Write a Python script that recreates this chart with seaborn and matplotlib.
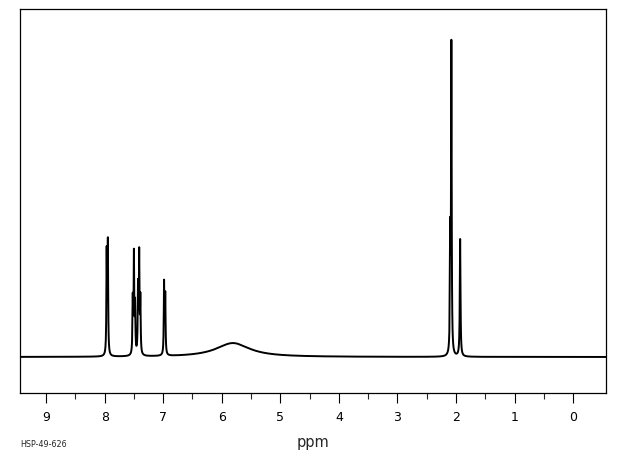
import numpy as np
import pandas as pd
import seaborn as sns
import matplotlib.pyplot as plt

# peak list (ppm, relative height, half width)
shifts = [7.965, 7.945, 7.52, 7.50, 7.48, 7.43, 7.41, 7.39, 6.985, 6.965, 5.81, 2.10, 2.08, 1.93]
heights = [32.0, 35.0, 17.0, 31.0, 15.0, 21.0, 31.0, 17.0, 22.5, 18.5, 4.4, 36.0, 97.0, 37.0]
widths = [0.006, 0.006, 0.006, 0.006, 0.006, 0.006, 0.006, 0.006, 0.006, 0.006, 0.35, 0.006, 0.006, 0.007]

tick_pos = list(range(0, 10))
tick_labels = [str(t) for t in tick_pos]

# build the lineshape from the peak list (lorentzian lines)
ppm = np.linspace(-0.56, 9.44, 20001)
inten = np.zeros_like(ppm)
for c, h, w in zip(shifts, heights, widths):
    inten += h * w**2 / ((ppm - c)**2 + w**2)
df = pd.DataFrame({'ppm': ppm, 'intensity': inten})

sns.set_theme(style='white')
plt.rcParams['font.family'] = ['DejaVu Sans']

fig = plt.figure(figsize=(6.2, 4.55), dpi=100)
ax = fig.add_axes([20.3/620, 1-393.3/455, (606-20.3)/620, (393.3-9.3)/455])

sns.lineplot(data=df, x='ppm', y='intensity', color='black', lw=1.4,
             estimator=None, ax=ax)

ax.set_xlim(9.44, -0.56)
ax.set_ylim(-11.45, 109.7)
ax.set_xticks(tick_pos)
ax.set_xticklabels(tick_labels)
ax.set_xticks(np.arange(0.5, 9.5, 1.0), minor=True)
ax.set_yticks([])
ax.tick_params(axis='x', which='major', direction='out', length=7.5, width=0.8,
               pad=5.5, labelsize=9, colors='black', bottom=True)
ax.tick_params(axis='x', which='minor', direction='out', length=4.3, width=0.8,
               bottom=True)
for s in ax.spines.values():
    s.set_color('black')
    s.set_linewidth(0.9)

ax.set_ylabel('')
ax.set_xlabel('ppm', fontsize=10.5, labelpad=8)
fig.text(20.7/620, 1-447/455, 'HSP-49-626', fontsize=5.8, va='baseline', ha='left')

plt.savefig('out.png', dpi=100)
